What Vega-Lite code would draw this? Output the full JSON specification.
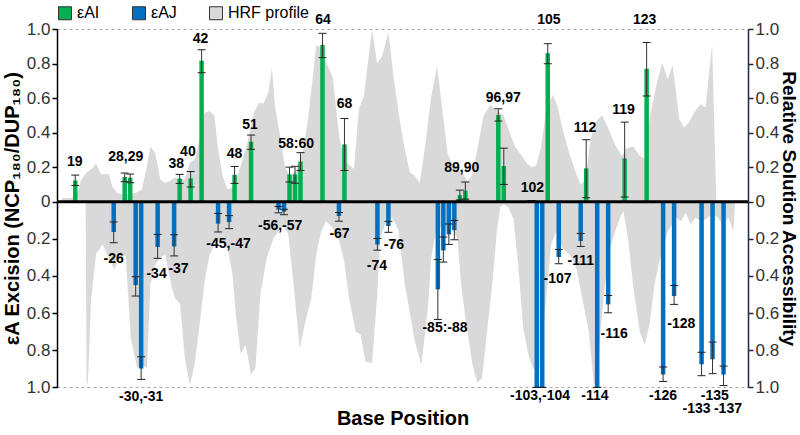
{
  "$schema": "https://vega.github.io/schema/vega-lite/v6.json",
  "width": 691,
  "height": 359,
  "autosize": {"type": "none"},
  "padding": {"left": 57, "top": 29, "right": 52, "bottom": 47},
  "background": "white",
  "config": {
    "font": "Liberation Sans",
    "view": {"stroke": null},
    "axis": {
      "labelFont": "Liberation Sans", "labelFontSize": 17, "labelColor": "#333", "labelOverlap": false,
      "titleFont": "Liberation Sans", "titleFontSize": 20, "titleFontWeight": "bold", "titleColor": "black",
      "tickColor": "black", "domainColor": "black", "domainWidth": 1.5, "tickSize": 5, "tickWidth": 1.5, "labelPadding": 2
    },
    "legend": {"title": null}
  },
  "datasets": {
    "bars": [
      {"pos": 19, "strand": "εAI", "v": 0.123, "lo": 0.094, "hi": 0.154},
      {"pos": 28, "strand": "εAI", "v": 0.143, "lo": 0.116, "hi": 0.166},
      {"pos": 29, "strand": "εAI", "v": 0.139, "lo": 0.11, "hi": 0.16},
      {"pos": 38, "strand": "εAI", "v": 0.133, "lo": 0.106, "hi": 0.158},
      {"pos": 40, "strand": "εAI", "v": 0.135, "lo": 0.085, "hi": 0.175},
      {"pos": 42, "strand": "εAI", "v": 0.816, "lo": 0.747, "hi": 0.88},
      {"pos": 48, "strand": "εAI", "v": 0.156, "lo": 0.106, "hi": 0.204},
      {"pos": 51, "strand": "εAI", "v": 0.347, "lo": 0.303, "hi": 0.386},
      {"pos": 58, "strand": "εAI", "v": 0.158, "lo": 0.114, "hi": 0.2},
      {"pos": 59, "strand": "εAI", "v": 0.158, "lo": 0.107, "hi": 0.205},
      {"pos": 60, "strand": "εAI", "v": 0.233, "lo": 0.181, "hi": 0.284},
      {"pos": 64, "strand": "εAI", "v": 0.907, "lo": 0.834, "hi": 0.975},
      {"pos": 68, "strand": "εAI", "v": 0.332, "lo": 0.181, "hi": 0.482},
      {"pos": 89, "strand": "εAI", "v": 0.038, "lo": 0.01, "hi": 0.067},
      {"pos": 90, "strand": "εAI", "v": 0.064, "lo": 0.015, "hi": 0.114},
      {"pos": 96, "strand": "εAI", "v": 0.502, "lo": 0.467, "hi": 0.538},
      {"pos": 97, "strand": "εAI", "v": 0.206, "lo": 0.1, "hi": 0.31},
      {"pos": 102, "strand": "εAI", "v": 0.004, "lo": 0.002, "hi": 0.006},
      {"pos": 105, "strand": "εAI", "v": 0.859, "lo": 0.799, "hi": 0.915},
      {"pos": 112, "strand": "εAI", "v": 0.193, "lo": 0.023, "hi": 0.359},
      {"pos": 119, "strand": "εAI", "v": 0.251, "lo": 0.027, "hi": 0.461},
      {"pos": 123, "strand": "εAI", "v": 0.77, "lo": 0.612, "hi": 0.922},
      {"pos": 26, "strand": "εAJ", "v": -0.163, "lo": -0.109, "hi": -0.221},
      {"pos": 30, "strand": "εAJ", "v": -0.449, "lo": -0.404, "hi": -0.508},
      {"pos": 31, "strand": "εAJ", "v": -0.898, "lo": -0.835, "hi": -0.957},
      {"pos": 34, "strand": "εAJ", "v": -0.244, "lo": -0.176, "hi": -0.305},
      {"pos": 37, "strand": "εAJ", "v": -0.241, "lo": -0.178, "hi": -0.292},
      {"pos": 45, "strand": "εAJ", "v": -0.118, "lo": -0.063, "hi": -0.163},
      {"pos": 47, "strand": "εAJ", "v": -0.11, "lo": -0.075, "hi": -0.145},
      {"pos": 56, "strand": "εAJ", "v": -0.043, "lo": -0.026, "hi": -0.06},
      {"pos": 57, "strand": "εAJ", "v": -0.054, "lo": -0.041, "hi": -0.07},
      {"pos": 67, "strand": "εAJ", "v": -0.077, "lo": -0.058, "hi": -0.105},
      {"pos": 74, "strand": "εAJ", "v": -0.23, "lo": -0.198, "hi": -0.261},
      {"pos": 76, "strand": "εAJ", "v": -0.131, "lo": -0.106, "hi": -0.165},
      {"pos": 85, "strand": "εAJ", "v": -0.472, "lo": -0.311, "hi": -0.634},
      {"pos": 86, "strand": "εAJ", "v": -0.262, "lo": -0.19, "hi": -0.325},
      {"pos": 87, "strand": "εAJ", "v": -0.176, "lo": -0.12, "hi": -0.23},
      {"pos": 88, "strand": "εAJ", "v": -0.153, "lo": -0.101, "hi": -0.205},
      {"pos": 103, "strand": "εAJ", "v": -1.0, "lo": -1.0, "hi": -1.0},
      {"pos": 104, "strand": "εAJ", "v": -1.0, "lo": -1.0, "hi": -1.0},
      {"pos": 107, "strand": "εAJ", "v": -0.298, "lo": -0.257, "hi": -0.334},
      {"pos": 111, "strand": "εAJ", "v": -0.212, "lo": -0.171, "hi": -0.241},
      {"pos": 114, "strand": "εAJ", "v": -1.0, "lo": -1.0, "hi": -1.0},
      {"pos": 116, "strand": "εAJ", "v": -0.553, "lo": -0.505, "hi": -0.598},
      {"pos": 126, "strand": "εAJ", "v": -0.93, "lo": -0.89, "hi": -0.968},
      {"pos": 128, "strand": "εAJ", "v": -0.508, "lo": -0.451, "hi": -0.553},
      {"pos": 133, "strand": "εAJ", "v": -0.876, "lo": -0.811, "hi": -0.937},
      {"pos": 135, "strand": "εAJ", "v": -0.849, "lo": -0.756, "hi": -0.926},
      {"pos": 137, "strand": "εAJ", "v": -0.93, "lo": -0.885, "hi": -0.99}
    ],
    "labels": [
      {"label": "19", "pos": 18.9, "anchor": 0.228},
      {"label": "28,29", "pos": 28.2, "anchor": 0.257},
      {"label": "38", "pos": 37.4, "anchor": 0.216},
      {"label": "40", "pos": 39.5, "anchor": 0.285},
      {"label": "42", "pos": 41.8, "anchor": 0.94},
      {"label": "48", "pos": 48.0, "anchor": 0.274},
      {"label": "51", "pos": 50.8, "anchor": 0.446},
      {"label": "58:60", "pos": 59.2, "anchor": 0.332},
      {"label": "64", "pos": 64.1, "anchor": 1.05},
      {"label": "68", "pos": 68.0, "anchor": 0.563},
      {"label": "89,90", "pos": 89.35, "anchor": 0.197},
      {"label": "96,97", "pos": 96.9, "anchor": 0.602},
      {"label": "102", "pos": 102.2, "anchor": 0.081},
      {"label": "105", "pos": 105.2, "anchor": 1.05},
      {"label": "112", "pos": 111.8, "anchor": 0.428},
      {"label": "119", "pos": 118.8, "anchor": 0.53},
      {"label": "123", "pos": 122.65, "anchor": 1.05},
      {"label": "-26", "pos": 26.0, "anchor": -0.307},
      {"label": "-30,-31", "pos": 31.0, "anchor": -1.052},
      {"label": "-34", "pos": 33.8, "anchor": -0.391},
      {"label": "-37", "pos": 37.8, "anchor": -0.364},
      {"label": "-45,-47", "pos": 46.9, "anchor": -0.228},
      {"label": "-56,-57", "pos": 56.3, "anchor": -0.133},
      {"label": "-67", "pos": 67.1, "anchor": -0.174},
      {"label": "-74", "pos": 73.9, "anchor": -0.348},
      {"label": "-76", "pos": 77.0, "anchor": -0.235},
      {"label": "-85:-88", "pos": 86.3, "anchor": -0.678},
      {"label": "-103,-104", "pos": 103.6, "anchor": -1.048},
      {"label": "-107", "pos": 106.8, "anchor": -0.416},
      {"label": "-111", "pos": 111.0, "anchor": -0.321},
      {"label": "-114", "pos": 113.6, "anchor": -1.048},
      {"label": "-116", "pos": 117.1, "anchor": -0.711},
      {"label": "-126", "pos": 126.0, "anchor": -1.048},
      {"label": "-128", "pos": 129.3, "anchor": -0.657},
      {"label": "-135", "pos": 135.4, "anchor": -1.045},
      {"label": "-133", "pos": 132.1, "anchor": -1.115},
      {"label": "-137", "pos": 137.8, "anchor": -1.115}
    ],
    "hrf": [
      {"side": "top", "pos": 16.59, "v": 0.02}, {"side": "top", "pos": 18.2, "v": 0.022}, {"side": "top", "pos": 19.28, "v": 0.03},
      {"side": "top", "pos": 20.0, "v": 0.12}, {"side": "top", "pos": 21.01, "v": 0.167}, {"side": "top", "pos": 21.91, "v": 0.19},
      {"side": "top", "pos": 22.81, "v": 0.22}, {"side": "top", "pos": 23.7, "v": 0.158}, {"side": "top", "pos": 24.6, "v": 0.16},
      {"side": "top", "pos": 25.19, "v": 0.158}, {"side": "top", "pos": 25.73, "v": 0.09}, {"side": "top", "pos": 26.63, "v": 0.05},
      {"side": "top", "pos": 27.88, "v": 0.04}, {"side": "top", "pos": 29.98, "v": 0.05}, {"side": "top", "pos": 31.11, "v": 0.07},
      {"side": "top", "pos": 32.01, "v": 0.2}, {"side": "top", "pos": 32.67, "v": 0.32}, {"side": "top", "pos": 33.57, "v": 0.28},
      {"side": "top", "pos": 34.47, "v": 0.13}, {"side": "top", "pos": 35.36, "v": 0.11}, {"side": "top", "pos": 36.26, "v": 0.12},
      {"side": "top", "pos": 37.03, "v": 0.14}, {"side": "top", "pos": 38.95, "v": 0.13}, {"side": "top", "pos": 39.85, "v": 0.225},
      {"side": "top", "pos": 40.74, "v": 0.245}, {"side": "top", "pos": 41.64, "v": 0.36}, {"side": "top", "pos": 42.54, "v": 0.515},
      {"side": "top", "pos": 43.43, "v": 0.525}, {"side": "top", "pos": 44.33, "v": 0.5}, {"side": "top", "pos": 44.92, "v": 0.32},
      {"side": "top", "pos": 45.82, "v": 0.15}, {"side": "top", "pos": 46.72, "v": 0.07}, {"side": "top", "pos": 47.92, "v": 0.09},
      {"side": "top", "pos": 49.05, "v": 0.2}, {"side": "top", "pos": 50.31, "v": 0.34}, {"side": "top", "pos": 51.51, "v": 0.515},
      {"side": "top", "pos": 52.4, "v": 0.57}, {"side": "top", "pos": 53.3, "v": 0.57}, {"side": "top", "pos": 54.2, "v": 0.64},
      {"side": "top", "pos": 54.79, "v": 0.775}, {"side": "top", "pos": 55.38, "v": 0.55}, {"side": "top", "pos": 56.28, "v": 0.38},
      {"side": "top", "pos": 57.17, "v": 0.2}, {"side": "top", "pos": 58.07, "v": 0.15}, {"side": "top", "pos": 59.27, "v": 0.18},
      {"side": "top", "pos": 60.48, "v": 0.3}, {"side": "top", "pos": 61.37, "v": 0.48}, {"side": "top", "pos": 62.27, "v": 0.73},
      {"side": "top", "pos": 62.86, "v": 0.905}, {"side": "top", "pos": 63.45, "v": 0.9}, {"side": "top", "pos": 64.66, "v": 0.81},
      {"side": "top", "pos": 65.86, "v": 0.72}, {"side": "top", "pos": 67.04, "v": 0.38}, {"side": "top", "pos": 67.94, "v": 0.235},
      {"side": "top", "pos": 68.84, "v": 0.215}, {"side": "top", "pos": 69.73, "v": 0.19}, {"side": "top", "pos": 70.63, "v": 0.535},
      {"side": "top", "pos": 71.53, "v": 0.61}, {"side": "top", "pos": 72.13, "v": 0.77}, {"side": "top", "pos": 73.03, "v": 1.0},
      {"side": "top", "pos": 73.93, "v": 0.8}, {"side": "top", "pos": 74.83, "v": 0.84}, {"side": "top", "pos": 76.01, "v": 0.98},
      {"side": "top", "pos": 76.91, "v": 0.73}, {"side": "top", "pos": 78.11, "v": 0.46}, {"side": "top", "pos": 79.01, "v": 0.3},
      {"side": "top", "pos": 79.9, "v": 0.17}, {"side": "top", "pos": 80.8, "v": 0.15}, {"side": "top", "pos": 81.7, "v": 0.11},
      {"side": "top", "pos": 82.59, "v": 0.3}, {"side": "top", "pos": 83.8, "v": 0.61}, {"side": "top", "pos": 84.87, "v": 0.785},
      {"side": "top", "pos": 85.88, "v": 0.515}, {"side": "top", "pos": 86.77, "v": 0.28}, {"side": "top", "pos": 87.98, "v": 0.19},
      {"side": "top", "pos": 89.18, "v": 0.18}, {"side": "top", "pos": 90.36, "v": 0.12}, {"side": "top", "pos": 91.2, "v": 0.15},
      {"side": "top", "pos": 92.15, "v": 0.3}, {"side": "top", "pos": 93.36, "v": 0.5}, {"side": "top", "pos": 94.56, "v": 0.56},
      {"side": "top", "pos": 95.45, "v": 0.535}, {"side": "top", "pos": 96.94, "v": 0.5}, {"side": "top", "pos": 97.84, "v": 0.42},
      {"side": "top", "pos": 99.04, "v": 0.32}, {"side": "top", "pos": 99.94, "v": 0.28}, {"side": "top", "pos": 101.12, "v": 0.225},
      {"side": "top", "pos": 102.02, "v": 0.2}, {"side": "top", "pos": 102.92, "v": 0.21}, {"side": "top", "pos": 103.81, "v": 0.32},
      {"side": "top", "pos": 104.71, "v": 0.535}, {"side": "top", "pos": 105.92, "v": 0.62}, {"side": "top", "pos": 106.81, "v": 0.55},
      {"side": "top", "pos": 107.71, "v": 0.42}, {"side": "top", "pos": 108.91, "v": 0.28}, {"side": "top", "pos": 110.09, "v": 0.17},
      {"side": "top", "pos": 110.99, "v": 0.1}, {"side": "top", "pos": 111.89, "v": 0.13}, {"side": "top", "pos": 112.78, "v": 0.36},
      {"side": "top", "pos": 113.68, "v": 0.46}, {"side": "top", "pos": 114.88, "v": 0.5}, {"side": "top", "pos": 116.08, "v": 0.42},
      {"side": "top", "pos": 117.26, "v": 0.33}, {"side": "top", "pos": 118.47, "v": 0.265}, {"side": "top", "pos": 119.36, "v": 0.31},
      {"side": "top", "pos": 120.56, "v": 0.32}, {"side": "top", "pos": 121.75, "v": 0.265}, {"side": "top", "pos": 122.65, "v": 0.25},
      {"side": "top", "pos": 123.54, "v": 0.48}, {"side": "top", "pos": 124.74, "v": 0.67}, {"side": "top", "pos": 125.82, "v": 0.805},
      {"side": "top", "pos": 126.84, "v": 0.71}, {"side": "top", "pos": 127.74, "v": 0.79}, {"side": "top", "pos": 128.92, "v": 0.48},
      {"side": "top", "pos": 129.82, "v": 0.43}, {"side": "top", "pos": 130.72, "v": 0.46}, {"side": "top", "pos": 131.62, "v": 0.515},
      {"side": "top", "pos": 132.82, "v": 0.565}, {"side": "top", "pos": 133.72, "v": 0.545}, {"side": "top", "pos": 134.92, "v": 0.91},
      {"side": "top", "pos": 135.69, "v": 0.0},
      {"side": "bottom", "pos": 16.59, "v": 0}, {"side": "bottom", "pos": 20.89, "v": 0}, {"side": "bottom", "pos": 21.07, "v": -0.98},
      {"side": "bottom", "pos": 21.3, "v": -0.975}, {"side": "bottom", "pos": 21.91, "v": -0.52}, {"side": "bottom", "pos": 22.81, "v": -0.28},
      {"side": "bottom", "pos": 23.99, "v": -0.23}, {"side": "bottom", "pos": 24.89, "v": -0.29}, {"side": "bottom", "pos": 26.09, "v": -0.365},
      {"side": "bottom", "pos": 26.99, "v": -0.3}, {"side": "bottom", "pos": 28.19, "v": -0.29}, {"side": "bottom", "pos": 29.09, "v": -0.73},
      {"side": "bottom", "pos": 30.27, "v": -0.895}, {"side": "bottom", "pos": 31.17, "v": -0.875}, {"side": "bottom", "pos": 32.06, "v": -0.895},
      {"side": "bottom", "pos": 32.67, "v": -0.445}, {"side": "bottom", "pos": 33.57, "v": -0.34}, {"side": "bottom", "pos": 34.47, "v": -0.3},
      {"side": "bottom", "pos": 35.36, "v": -0.285}, {"side": "bottom", "pos": 36.55, "v": -0.46}, {"side": "bottom", "pos": 37.16, "v": -0.52},
      {"side": "bottom", "pos": 38.06, "v": -0.55}, {"side": "bottom", "pos": 38.95, "v": -0.84}, {"side": "bottom", "pos": 39.85, "v": -0.99},
      {"side": "bottom", "pos": 40.74, "v": -0.875}, {"side": "bottom", "pos": 41.64, "v": -0.66}, {"side": "bottom", "pos": 42.54, "v": -0.43},
      {"side": "bottom", "pos": 43.43, "v": -0.29}, {"side": "bottom", "pos": 44.33, "v": -0.23}, {"side": "bottom", "pos": 45.52, "v": -0.21},
      {"side": "bottom", "pos": 46.72, "v": -0.25}, {"side": "bottom", "pos": 47.62, "v": -0.39}, {"side": "bottom", "pos": 48.21, "v": -0.6},
      {"side": "bottom", "pos": 49.11, "v": -0.82}, {"side": "bottom", "pos": 50.0, "v": -0.77}, {"side": "bottom", "pos": 51.02, "v": -0.93},
      {"side": "bottom", "pos": 51.8, "v": -0.895}, {"side": "bottom", "pos": 52.69, "v": -0.5}, {"side": "bottom", "pos": 53.89, "v": -0.3},
      {"side": "bottom", "pos": 55.1, "v": -0.195}, {"side": "bottom", "pos": 55.99, "v": -0.16}, {"side": "bottom", "pos": 56.89, "v": -0.13},
      {"side": "bottom", "pos": 57.78, "v": -0.175}, {"side": "bottom", "pos": 58.68, "v": -0.43}, {"side": "bottom", "pos": 59.87, "v": -0.79},
      {"side": "bottom", "pos": 60.76, "v": -0.66}, {"side": "bottom", "pos": 61.96, "v": -0.52}, {"side": "bottom", "pos": 62.86, "v": -0.285},
      {"side": "bottom", "pos": 63.76, "v": -0.16}, {"side": "bottom", "pos": 64.65, "v": -0.105}, {"side": "bottom", "pos": 65.86, "v": -0.14},
      {"side": "bottom", "pos": 67.04, "v": -0.21}, {"side": "bottom", "pos": 67.94, "v": -0.32}, {"side": "bottom", "pos": 68.84, "v": -0.52},
      {"side": "bottom", "pos": 70.04, "v": -0.7}, {"side": "bottom", "pos": 70.93, "v": -0.715}, {"side": "bottom", "pos": 71.83, "v": -0.86},
      {"side": "bottom", "pos": 73.03, "v": -0.87}, {"side": "bottom", "pos": 73.93, "v": -0.52}, {"side": "bottom", "pos": 74.52, "v": -0.195},
      {"side": "bottom", "pos": 75.42, "v": -0.12}, {"side": "bottom", "pos": 76.62, "v": -0.085}, {"side": "bottom", "pos": 77.8, "v": -0.15},
      {"side": "bottom", "pos": 79.01, "v": -0.45}, {"side": "bottom", "pos": 80.8, "v": -0.75}, {"side": "bottom", "pos": 82.0, "v": -0.88},
      {"side": "bottom", "pos": 83.19, "v": -0.57}, {"side": "bottom", "pos": 83.8, "v": -0.3}, {"side": "bottom", "pos": 84.74, "v": -0.15},
      {"side": "bottom", "pos": 87.08, "v": -0.12}, {"side": "bottom", "pos": 88.57, "v": -0.2}, {"side": "bottom", "pos": 89.18, "v": -0.43},
      {"side": "bottom", "pos": 90.07, "v": -0.64}, {"side": "bottom", "pos": 91.26, "v": -0.87}, {"side": "bottom", "pos": 92.15, "v": -0.975},
      {"side": "bottom", "pos": 93.05, "v": -0.95}, {"side": "bottom", "pos": 93.95, "v": -0.7}, {"side": "bottom", "pos": 94.85, "v": -0.46},
      {"side": "bottom", "pos": 95.74, "v": -0.16}, {"side": "bottom", "pos": 96.35, "v": -0.03}, {"side": "bottom", "pos": 96.94, "v": -0.015},
      {"side": "bottom", "pos": 97.84, "v": -0.03}, {"side": "bottom", "pos": 98.74, "v": -0.09}, {"side": "bottom", "pos": 99.63, "v": -0.34},
      {"side": "bottom", "pos": 100.53, "v": -0.68}, {"side": "bottom", "pos": 101.43, "v": -0.82}, {"side": "bottom", "pos": 102.33, "v": -0.9},
      {"side": "bottom", "pos": 103.53, "v": -0.9}, {"side": "bottom", "pos": 104.71, "v": -0.52}, {"side": "bottom", "pos": 105.61, "v": -0.23},
      {"side": "bottom", "pos": 106.51, "v": -0.16}, {"side": "bottom", "pos": 107.71, "v": -0.25}, {"side": "bottom", "pos": 108.91, "v": -0.285},
      {"side": "bottom", "pos": 110.09, "v": -0.34}, {"side": "bottom", "pos": 111.29, "v": -0.52}, {"side": "bottom", "pos": 112.49, "v": -0.7},
      {"side": "bottom", "pos": 113.39, "v": -0.98}, {"side": "bottom", "pos": 113.98, "v": -1.0}, {"side": "bottom", "pos": 114.58, "v": -0.7},
      {"side": "bottom", "pos": 115.47, "v": -0.43}, {"side": "bottom", "pos": 116.37, "v": -0.25}, {"side": "bottom", "pos": 117.26, "v": -0.16},
      {"side": "bottom", "pos": 118.16, "v": -0.085}, {"side": "bottom", "pos": 118.77, "v": -0.05}, {"side": "bottom", "pos": 119.67, "v": -0.21},
      {"side": "bottom", "pos": 120.56, "v": -0.46}, {"side": "bottom", "pos": 121.75, "v": -0.7}, {"side": "bottom", "pos": 122.65, "v": -0.77},
      {"side": "bottom", "pos": 123.54, "v": -0.66}, {"side": "bottom", "pos": 124.44, "v": -0.445}, {"side": "bottom", "pos": 125.34, "v": -0.32},
      {"side": "bottom", "pos": 126.84, "v": -0.16}, {"side": "bottom", "pos": 128.33, "v": -0.085}, {"side": "bottom", "pos": 129.23, "v": -0.105},
      {"side": "bottom", "pos": 130.13, "v": -0.06}, {"side": "bottom", "pos": 131.03, "v": -0.12}, {"side": "bottom", "pos": 131.92, "v": -0.085},
      {"side": "bottom", "pos": 133.12, "v": -0.11}, {"side": "bottom", "pos": 134.3, "v": -0.08}, {"side": "bottom", "pos": 135.81, "v": -0.08},
      {"side": "bottom", "pos": 136.99, "v": -0.13}, {"side": "bottom", "pos": 137.89, "v": -0.085}, {"side": "bottom", "pos": 138.8, "v": -0.16},
      {"side": "bottom", "pos": 139.1, "v": 0}
    ]
  },
  "layer": [
    {
      "data": {"name": "hrf"},
      "mark": {"type": "area", "interpolate": "linear", "opacity": 1},
      "encoding": {
        "x": {"field": "pos", "type": "quantitative", "scale": {"domain": [16.59, 140.54], "nice": false, "zero": false},
              "axis": {"title": "Base Position", "domain": false, "ticks": false, "labels": false, "grid": false, "titlePadding": 20, "titleFontSize": 20}},
        "y": {"field": "v", "type": "quantitative", "stack": null,
              "scale": {"domain": [-1, 0, 1], "range": [358.4, 172.7, 0], "nice": false, "zero": false},
              "axis": {"orient": "right", "title": "Relative Solution Accessibility", "values": [-1, -0.8, -0.6, -0.4, -0.2, 0, 0.2, 0.4, 0.6, 0.8, 1],
                       "labelExpr": "datum.value == 0 ? '0' : format(abs(datum.value), '.1f')", "grid": false, "titlePadding": 0,
                       "labelOverlap": false, "titleFontSize": 19, "domainColor": "#1f2a44", "tickColor": "#1f2a44"}},
        "y2": {"datum": 0},
        "detail": {"field": "side", "type": "nominal"},
        "color": {"datum": "HRF profile", "type": "nominal",
                  "scale": {"domain": ["εAI", "εAJ", "HRF profile"], "range": ["#00b050", "#0070c0", "#d9d9d9"]},
                  "legend": {"orient": "none", "legendX": 0, "legendY": -24, "direction": "horizontal", "title": null,
                             "symbolType": "square", "symbolSize": 169, "symbolStrokeColor": "#333", "symbolStrokeWidth": 1,
                             "symbolOpacity": 1, "labelFontSize": 16, "labelColor": "black", "labelFont": "Liberation Sans",
                             "columnPadding": 30, "labelOffset": 4}}
      }
    },
    {
      "layer": [
        {
          "data": {"name": "bars"},
          "mark": {"type": "bar", "size": 4.5, "orient": "vertical", "opacity": 1},
          "encoding": {
            "x": {"field": "pos", "type": "quantitative"},
            "y": {"field": "v", "type": "quantitative", "stack": null,
                  "scale": {"domain": [-1, 0, 1], "range": [358.4, 172.7, 0], "nice": false, "zero": false},
                  "axis": {"orient": "left", "title": "εA Excision (NCP₁₈₀/DUP₁₈₀)", "values": [-1, -0.8, -0.6, -0.4, -0.2, 0, 0.2, 0.4, 0.6, 0.8, 1],
                           "labelExpr": "datum.value == 0 ? '0' : format(abs(datum.value), '.1f')", "titlePadding": 4,
                           "labelOverlap": false, "tickCount": 11,
                           "grid": true, "gridDash": [3, 3], "gridColor": "#aaaaaa", "gridWidth": 1,
                           "gridOpacity": {"condition": {"test": "abs(datum.value) > 0.99", "value": 1}, "value": 0}}},
            "y2": {"datum": 0},
            "color": {"field": "strand", "type": "nominal", "legend": {"title": null}}
          }
        },
        {
          "data": {"name": "bars"},
          "mark": {"type": "rule", "color": "#333", "strokeWidth": 1},
          "encoding": {
            "x": {"field": "pos", "type": "quantitative"},
            "y": {"field": "lo", "type": "quantitative"},
            "y2": {"field": "hi"}
          }
        },
        {
          "data": {"name": "bars"},
          "mark": {"type": "tick", "orient": "horizontal", "size": 8, "thickness": 1, "color": "#222", "opacity": 1},
          "encoding": {
            "x": {"field": "pos", "type": "quantitative"},
            "y": {"field": "lo", "type": "quantitative"}
          }
        },
        {
          "data": {"name": "bars"},
          "mark": {"type": "tick", "orient": "horizontal", "size": 8, "thickness": 1, "color": "#222", "opacity": 1},
          "encoding": {
            "x": {"field": "pos", "type": "quantitative"},
            "y": {"field": "hi", "type": "quantitative"}
          }
        },
        {
          "data": {"values": [{}]},
          "mark": {"type": "rule", "color": "black", "strokeWidth": 3},
          "encoding": {"y": {"datum": 0}}
        },
        {
          "data": {"name": "labels"},
          "mark": {"type": "text", "font": "Liberation Sans", "fontSize": 14, "fontWeight": "bold", "color": "black", "baseline": "middle", "align": "center"},
          "encoding": {
            "x": {"field": "pos", "type": "quantitative"},
            "y": {"field": "anchor", "type": "quantitative"},
            "text": {"field": "label"}
          }
        }
      ]
    }
  ],
  "resolve": {"scale": {"y": "independent"}}
}
